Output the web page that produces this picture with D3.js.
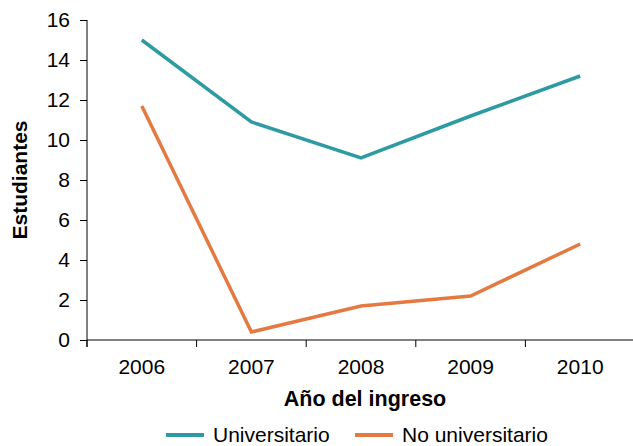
<!DOCTYPE html>
<html>
<head>
<meta charset="utf-8">
<script src="https://cdn.jsdelivr.net/npm/d3@7"></script>
<style>
    body { margin: 0; background: #fff; }
    svg { display: block; font-family: "Liberation Sans", Arial, sans-serif; }
</style>
</head>
<body>
<div id="chart"></div>
<script>
var years = ["2006", "2007", "2008", "2009", "2010"]
var universitario = [15.0, 10.9, 9.1, 11.2, 13.2]
var noUniversitario = [11.7, 0.4, 1.7, 2.2, 4.8]
var yTicks = [0, 2, 4, 6, 8, 10, 12, 14, 16]

var series = [
    {name: "Universitario", values: universitario, color: "#2e9aa3"},
    {name: "No universitario", values: noUniversitario, color: "#e47a41"}
]

function create_chart() {
    var width = 633
    var height = 446
    var left = 87, right = 635, top = 20, bottom = 340

    var svg = d3.select("#chart")
        .append("svg")
        .attr("width", width)
        .attr("height", height)

    var x = d3.scaleBand().domain(years).range([left, right])
    var y = d3.scaleLinear().domain([0, 16]).range([bottom, top])

    // y axis
    var yAxis = svg.append("g")
        .attr("transform", "translate(" + left + ",0)")
        .call(d3.axisLeft(y).tickValues(yTicks).tickSize(7).tickPadding(10))
    yAxis.select(".domain").attr("d", "M0," + top + "V" + (bottom + 7))
    yAxis.selectAll("text").style("font-size", "21px").attr("fill", "#000")

    // x axis: labels at band centres, ticks between bands
    var xAxis = svg.append("g")
        .attr("transform", "translate(0," + bottom + ")")
        .call(d3.axisBottom(x).tickSize(0).tickPadding(19))
    xAxis.select(".domain").attr("d", "M" + left + ",0H" + right)
    xAxis.selectAll("text").style("font-size", "21px").attr("fill", "#000")

    xAxis.selectAll("line.sep")
        .data(years)
        .enter()
        .append("line")
        .attr("class", "sep")
        .attr("x1", (d) => x(d))
        .attr("x2", (d) => x(d))
        .attr("y1", 0)
        .attr("y2", 7)
        .attr("stroke", "#000")

    // axis titles
    svg.append("text")
        .attr("x", 365)
        .attr("y", 406)
        .attr("text-anchor", "middle")
        .style("font-size", "21.5px")
        .style("font-weight", "bold")
        .text("Año del ingreso")

    svg.append("text")
        .attr("transform", "translate(27," + (top + bottom) / 2 + ") rotate(-90)")
        .attr("text-anchor", "middle")
        .style("font-size", "21px")
        .style("font-weight", "bold")
        .text("Estudiantes")

    // lines
    var line = d3.line()
        .x((d, i) => x(years[i]) + x.bandwidth() / 2)
        .y((d) => y(d))

    svg.append("g").selectAll("path")
        .data(series)
        .enter()
        .append("path")
        .attr("d", (d) => line(d.values))
        .attr("fill", "none")
        .attr("stroke", (d) => d.color)
        .attr("stroke-width", 3.5)

    // legend
    var legendX = [166, 355]
    var legend = svg.append("g").selectAll("g")
        .data(series)
        .enter()
        .append("g")
        .attr("transform", (d, i) => "translate(" + legendX[i] + ",435)")

    legend.append("line")
        .attr("x1", 0)
        .attr("x2", 38)
        .attr("stroke", (d) => d.color)
        .attr("stroke-width", 4)

    legend.append("text")
        .attr("x", 47)
        .attr("y", 6.5)
        .style("font-size", "21px")
        .text((d) => d.name)
}

create_chart()
</script>
</body>
</html>
